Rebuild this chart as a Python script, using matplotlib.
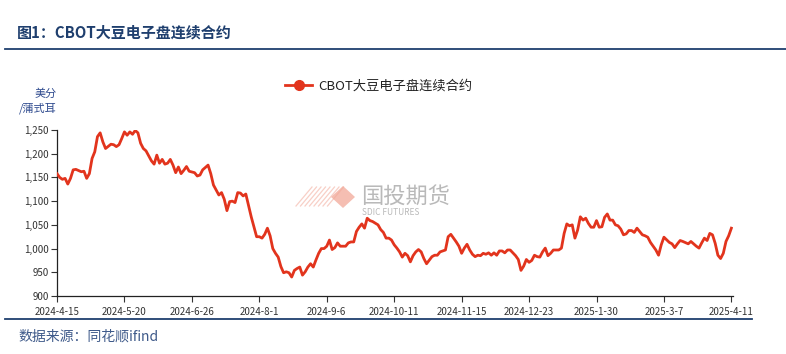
import numpy as np
import matplotlib
matplotlib.use("Agg")
import matplotlib.pyplot as plt
from matplotlib.lines import Line2D
from matplotlib.patches import Polygon
from matplotlib.ticker import FuncFormatter

plt.rcParams["font.family"] = ["Noto Sans CJK SC", "DejaVu Sans"]

# trading-day index (0 = 2024-4-15) and settlement price, cents/bushel
day = [0, 1, 2, 3, 4, 5, 6, 7, 9, 10, 11, 12, 13, 14, 15, 16, 17, 18, 20, 21,
       22, 23, 24, 25, 26, 27, 28, 29, 30, 31, 32, 33, 35, 36, 37, 38, 39, 40, 41, 42,
       43, 44, 45, 46, 47, 48, 49, 51, 52, 53, 54, 56, 57, 58, 60, 61, 62, 63, 64, 65,
       66, 67, 68, 69, 70, 72, 73, 74, 75, 76, 77, 78, 79, 80, 81, 82, 83, 84, 85, 86,
       87, 88, 89, 90, 91, 92, 93, 94, 95, 96, 97, 98, 99, 100, 101, 102, 103, 104, 105, 107,
       108, 109, 110, 111, 112, 113, 114, 115, 116, 117, 119, 120, 121, 122, 123, 124, 125, 126, 127, 128,
       129, 130, 131, 132, 133, 134, 135, 136, 137, 139, 140, 141, 142, 144, 145, 146, 147, 148, 149, 150,
       151, 152, 153, 154, 155, 156, 157, 158, 159, 160, 161, 162, 163, 164, 165, 166, 167, 168, 169, 170,
       171, 172, 173, 174, 175, 176, 177, 178, 179, 180, 181, 182, 183, 184, 186, 187, 188, 189, 190, 191,
       192, 193, 194, 195, 196, 197, 198, 199, 200, 201, 202, 203, 204, 205, 206, 207, 208, 209, 210, 211,
       212, 213, 214, 215, 216, 217, 218, 219, 220, 222, 223, 224, 225, 227, 228, 229, 230, 231, 232, 234,
       235, 236, 237, 238, 239, 240, 241, 242, 243, 244, 245, 246, 247, 248, 249, 250]
price = [1158, 1150, 1146, 1148, 1136, 1148, 1166, 1167, 1162, 1163, 1148, 1158, 1190, 1204, 1236, 1244, 1225, 1211, 1220, 1219,
         1215, 1219, 1232, 1246, 1239, 1246, 1241, 1249, 1244, 1222, 1211, 1206, 1185, 1178, 1197, 1180, 1188, 1178, 1180, 1188,
         1176, 1160, 1172, 1158, 1165, 1173, 1163, 1160, 1153, 1155, 1166, 1176, 1158, 1134, 1113, 1118, 1104, 1080, 1099, 1100,
         1097, 1118, 1117, 1111, 1115, 1067, 1046, 1025, 1025, 1022, 1030, 1043, 1027, 1000, 990, 982, 962, 949, 951, 949,
         940, 954, 958, 961, 944, 951, 961, 968, 961, 976, 990, 1000, 1000, 1005, 1018, 998, 1002, 1012, 1005, 1005,
         1012, 1014, 1014, 1036, 1045, 1052, 1043, 1064, 1059, 1057, 1050, 1040, 1034, 1022, 1022, 1018, 1008, 1001, 993, 982,
         990, 985, 972, 985, 993, 998, 993, 979, 968, 983, 986, 986, 993, 997, 1025, 1030, 1022, 1014, 1005, 990,
         1001, 1009, 997, 988, 983, 986, 985, 990, 988, 991, 986, 991, 986, 995, 995, 991, 997, 997, 991, 985,
         977, 954, 963, 977, 971, 975, 986, 983, 982, 993, 1001, 985, 990, 997, 997, 1001, 1032, 1052, 1048, 1050,
         1022, 1039, 1067, 1060, 1064, 1053, 1045, 1045, 1059, 1045, 1046, 1066, 1073, 1060, 1060, 1050, 1048, 1041, 1029, 1031,
         1038, 1038, 1034, 1043, 1036, 1029, 1027, 1024, 1013, 997, 986, 1008, 1024, 1013, 1010, 1002, 1010, 1017, 1015, 1010,
         1015, 1010, 1005, 1001, 1012, 1022, 1017, 1032, 1029, 1011, 986, 979, 990, 1015, 1027, 1043]

tick_days = [0, 25, 50, 75, 100, 125, 150, 175, 200, 225, 250]
tick_labels = ["2024-4-15", "2024-5-20", "2024-6-26", "2024-8-1", "2024-9-6", "2024-10-11",
               "2024-11-15", "2024-12-23", "2025-1-30", "2025-3-7", "2025-4-11"]
y_ticks = [900, 950, 1000, 1050, 1100, 1150, 1200, 1250]

red = "#E2341D"
navy = "#1F3F6E"
text_grey = "#333333"

fig = plt.figure(figsize=(7.86, 3.54), dpi=100)
ax = fig.add_axes([57 / 786, 1 - 296 / 354, (733 - 57) / 786, (296 - 130) / 354])

ax.plot(day, price, color=red, lw=2.0, solid_joinstyle="round", zorder=3)

ax.set_xlim(0, 250.6)
ax.set_ylim(900, 1250)
ax.set_xticks(tick_days)
ax.set_xticklabels(tick_labels)
ax.set_yticks(y_ticks)
ax.yaxis.set_major_formatter(FuncFormatter(lambda v, p: f"{int(v):,}"))
ax.tick_params(axis="both", labelsize=7, colors=text_grey, length=4, width=0.8, pad=2)
ax.tick_params(axis="x", pad=4)
for s in ["top", "right"]:
    ax.spines[s].set_visible(False)
for s in ["left", "bottom"]:
    ax.spines[s].set_color("#222222")
    ax.spines[s].set_linewidth(0.9)

# unit label above y axis
fig.text(57 / 786, 1 - 94 / 354, "美分", ha="right", va="center", fontsize=8, color="#2F4B8F")
fig.text(57 / 786, 1 - 108 / 354, "/蒲式耳", ha="right", va="center", fontsize=8, color="#2F4B8F")

# legend
handle = Line2D([], [], color=red, lw=2.0, marker="o", markersize=7)
fig.legend([handle], ["CBOT大豆电子盘连续合约"], loc="center", bbox_to_anchor=(379 / 786, 1 - 86 / 354),
           frameon=False, fontsize=9.5, handlelength=2.0, handletextpad=0.5, labelcolor="#222222")

# title and rules
fig.text(17 / 786, 1 - 33 / 354, "图1：CBOT大豆电子盘连续合约", ha="left", va="center",
         fontsize=10.8, fontweight="bold", color=navy)
fig.add_artist(Line2D([5 / 786, 1.0], [1 - 49 / 354] * 2, color=navy, lw=1.3))
fig.add_artist(Line2D([5 / 786, 752 / 786], [1 - 319 / 354] * 2, color=navy, lw=1.3))
fig.text(18 / 786, 1 - 337 / 354, "数据来源：同花顺ifind", ha="left", va="center",
         fontsize=10, style="italic", color="#3F5A8A")

# watermark logo
pink = "#F2A898"
diamond = Polygon([(343 / 786, 1 - 186 / 354), (355 / 786, 1 - 197 / 354),
                   (343 / 786, 1 - 208 / 354), (331 / 786, 1 - 197 / 354)],
                  closed=True, transform=fig.transFigure, color=pink, alpha=0.75, lw=0)
fig.add_artist(diamond)
for k in range(8):
    x0 = 296 + k * 4.5
    fig.add_artist(Line2D([x0 / 786, (x0 + 16) / 786], [1 - 206 / 354, 1 - 187 / 354],
                          color=pink, lw=0.9, alpha=0.55))
fig.text(361 / 786, 1 - 197 / 354, "国投期货", ha="left", va="center", fontsize=16,
         color="#A8A8A8", alpha=0.8)
fig.text(362 / 786, 1 - 213 / 354, "SDIC FUTURES", ha="left", va="center", fontsize=6,
         color="#A8A8A8", alpha=0.8)

fig.savefig("out.png", dpi=100)
